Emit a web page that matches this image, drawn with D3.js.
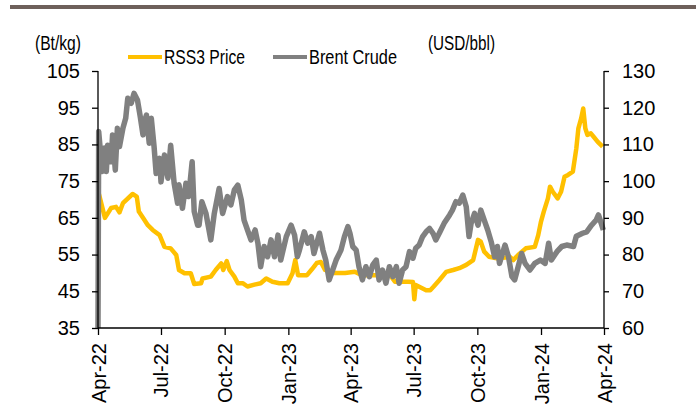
<!DOCTYPE html>
<html><head><meta charset="utf-8">
<script src="https://cdn.jsdelivr.net/npm/d3@7"></script>
<style>
html,body{margin:0;padding:0;background:#fff;}
svg{display:block;font-family:"Liberation Sans",Arial,sans-serif;}
</style></head>
<body>
<script>
// RSS3 price (Bt/kg) - left axis
const rssDates = ["2022-04-01","2022-04-11","2022-04-20","2022-04-27","2022-05-02","2022-05-07","2022-05-21","2022-05-27","2022-05-30","2022-06-05","2022-06-12","2022-06-19","2022-06-29","2022-07-06","2022-07-15","2022-07-23","2022-07-27","2022-08-04","2022-08-13","2022-08-18","2022-08-28","2022-08-30","2022-09-11","2022-09-18","2022-09-26","2022-09-29","2022-10-04","2022-10-08","2022-10-15","2022-10-20","2022-10-27","2022-11-03","2022-11-13","2022-11-22","2022-11-30","2022-12-09","2022-12-19","2022-12-31","2023-01-07","2023-01-11","2023-01-15","2023-01-28","2023-02-04","2023-02-11","2023-02-17","2023-02-23","2023-03-07","2023-03-24","2023-04-07","2023-04-17","2023-05-06","2023-05-28","2023-06-04","2023-06-23","2023-06-30","2023-07-02","2023-07-04","2023-07-19","2023-07-25","2023-07-30","2023-08-07","2023-08-17","2023-08-27","2023-09-05","2023-09-15","2023-09-25","2023-10-02","2023-10-06","2023-10-11","2023-10-18","2023-10-29","2023-11-11","2023-11-17","2023-11-22","2023-11-29","2023-12-10","2023-12-23","2023-12-28","2024-01-01","2024-01-05","2024-01-11","2024-01-14","2024-01-18","2024-01-25","2024-01-30","2024-02-04","2024-02-09","2024-02-16","2024-02-21","2024-02-24","2024-02-28","2024-03-02","2024-03-05","2024-03-08","2024-03-13","2024-03-17","2024-03-23","2024-03-30"];
const rssValues = [72.5,65,67.7,68,66.5,69,71.5,70.8,66.7,65,63,61.7,60.3,57.1,56.7,54.9,50.8,49.9,49.9,47,47.2,48.5,49,50.8,52.6,50.8,53.2,50.8,49,47.2,47.2,46.3,46.8,47.2,48.5,47.6,47.2,47.2,49.9,53.5,49.4,49.4,51,52.7,53,50.8,50,50,50.3,49.4,49.4,49.4,47.6,47.6,47.5,42.8,46.7,45.3,45.3,46.3,48,50.3,50.8,51.3,52.2,53.5,59,58.5,55.8,54.4,54,54.2,54.4,53.5,54.9,56.7,57.1,60.3,64,66.7,70.3,73.5,72.1,70.3,72.1,76.2,76.7,77.6,83.9,89.4,92.1,94.8,89.4,87.6,88,87.1,85.7,84.4];

// Brent crude (USD/bbl) - right axis
const brentDates = ["2022-04-01","2022-04-02","2022-04-07","2022-04-10","2022-04-13","2022-04-15","2022-04-20","2022-04-22","2022-04-26","2022-04-29","2022-05-02","2022-05-07","2022-05-11","2022-05-14","2022-05-19","2022-05-23","2022-05-28","2022-06-01","2022-06-05","2022-06-07","2022-06-10","2022-06-14","2022-06-17","2022-06-21","2022-06-24","2022-06-29","2022-07-01","2022-07-06","2022-07-11","2022-07-15","2022-07-20","2022-07-25","2022-07-27","2022-08-01","2022-08-06","2022-08-10","2022-08-15","2022-08-18","2022-08-23","2022-08-25","2022-08-29","2022-09-04","2022-09-11","2022-09-16","2022-09-23","2022-09-28","2022-10-05","2022-10-10","2022-10-15","2022-10-20","2022-10-25","2022-10-29","2022-11-03","2022-11-08","2022-11-14","2022-11-18","2022-11-22","2022-11-27","2022-12-02","2022-12-07","2022-12-12","2022-12-17","2022-12-21","2022-12-29","2023-01-05","2023-01-10","2023-01-14","2023-01-17","2023-01-24","2023-01-29","2023-02-03","2023-02-07","2023-02-15","2023-02-20","2023-02-24","2023-03-01","2023-03-06","2023-03-11","2023-03-18","2023-03-23","2023-03-28","2023-03-31","2023-04-04","2023-04-09","2023-04-13","2023-04-18","2023-04-23","2023-04-28","2023-05-03","2023-05-08","2023-05-12","2023-05-17","2023-05-22","2023-05-27","2023-06-01","2023-06-06","2023-06-10","2023-06-15","2023-06-20","2023-06-25","2023-06-30","2023-07-04","2023-07-09","2023-07-14","2023-07-19","2023-07-24","2023-07-29","2023-08-02","2023-08-07","2023-08-14","2023-08-22","2023-08-26","2023-08-31","2023-09-05","2023-09-10","2023-09-15","2023-09-19","2023-09-22","2023-09-27","2023-10-02","2023-10-06","2023-10-11","2023-10-16","2023-10-21","2023-10-26","2023-10-30","2023-11-02","2023-11-10","2023-11-15","2023-11-20","2023-11-24","2023-11-29","2023-12-04","2023-12-09","2023-12-16","2023-12-23","2023-12-31","2024-01-07","2024-01-12","2024-01-16","2024-01-24","2024-01-31","2024-02-07","2024-02-17","2024-02-21","2024-03-01","2024-03-07","2024-03-14","2024-03-21","2024-03-24","2024-03-28","2024-03-31"];
const brentValues = [60,113.5,102.6,109,102.6,109.8,105.3,112.6,103,114.4,109.4,114.4,117.1,122.6,121.2,123.9,122.1,117.6,112.6,116.2,118,110.3,117.1,109.4,102.1,106.2,99.8,107.1,100.8,109.8,99.4,94,99,92.6,99.4,95.8,105.3,91.7,88,88,94.4,91.2,84,91.2,98,91.2,95.8,93.5,97.6,98.9,94.9,89.4,86.7,84,86.7,83.1,76.7,82.2,79.4,84,79.4,85.3,78.5,84.9,88,85.3,79.4,81.2,86.2,83.1,84.9,80.3,85.8,81.2,78.5,73.1,75.8,78.5,81.2,84.9,87.6,85.8,82.2,81.2,76.7,73.1,76.7,74,77.2,78.5,73.1,75.8,72.2,76.7,74,76.7,72.2,75.8,76.7,80.8,79,81.7,82.6,84.9,86.2,87.1,85.8,84,85.8,88.5,90.8,92.1,94.4,94,96.2,93,84.9,88.5,91.2,88,92.1,89.4,86.7,83.5,79.4,82.2,77.6,82.6,79.4,74,73.1,76.7,80.3,77.6,75.8,77.6,78.5,77.6,83.1,78.5,80.8,82.2,82.6,82.2,85,85.8,86.2,88,89.5,90.8,88.5,86.7];

const xTickDates = ["2022-04-01","2022-07-01","2022-10-01","2023-01-01","2023-04-01","2023-07-01","2023-10-01","2024-01-01","2024-04-01"];
const xTickLabels = ["Apr-22","Jul-22","Oct-22","Jan-23","Apr-23","Jul-23","Oct-23","Jan-24","Apr-24"];
const leftTicks = [35,45,55,65,75,85,95,105];
const rightTicks = [60,70,80,90,100,110,120,130];
const seriesNames = ["RSS3 Price","Brent Crude"];
const unitLabels = ["(Bt/kg)","(USD/bbl)"];

const W = 696, H = 417;
const parse = d3.timeParse("%Y-%m-%d");
const svg = d3.select("body").append("svg").attr("width", W).attr("height", H);

const x = d3.scaleTime().domain([parse("2022-04-01"), parse("2024-04-01")]).range([98, 604]);
const yL = d3.scaleLinear().domain([35,105]).range([328,71]);
const yR = d3.scaleLinear().domain([60,130]).range([328,71]);

// top band
svg.append("rect").attr("x",10).attr("y",5).attr("width",W-10).attr("height",4).attr("fill","#6e605b");

const YEL = "#FFC000", GRY = "#808080";

const rss = rssDates.map((d,i)=>({d:parse(d), v:rssValues[i]}));
const brent = brentDates.map((d,i)=>({d:parse(d), v:brentValues[i]}));

svg.append("path").datum(rss)
  .attr("fill","none").attr("stroke",YEL).attr("stroke-width",4.5).attr("stroke-linejoin","round")
  .attr("d", d3.line().x(p=>x(p.d)).y(p=>yL(p.v)));
svg.append("path").datum(brent)
  .attr("fill","none").attr("stroke",GRY).attr("stroke-width",5.5).attr("stroke-linejoin","round")
  .attr("d", d3.line().x(p=>x(p.d)).y(p=>yR(p.v)));

// axes
const fs = 20;
const gL = svg.append("g").attr("transform","translate(98,0)")
  .call(d3.axisLeft(yL).tickValues(leftTicks).tickSize(6).tickPadding(12).tickFormat(d3.format("d")));
const gR = svg.append("g").attr("transform","translate(604,0)")
  .call(d3.axisRight(yR).tickValues(rightTicks).tickSize(5).tickPadding(13).tickFormat(d3.format("d")));
const gB = svg.append("g").attr("transform","translate(0,328)")
  .call(d3.axisBottom(x).tickValues(xTickDates.map(parse)).tickSize(7)
    .tickFormat((d,i)=>xTickLabels[i]));
[gL,gR,gB].forEach(g=>{
  g.select(".domain").attr("stroke","#000").attr("stroke-width",1.3);
  g.selectAll(".tick line").attr("stroke","#000").attr("stroke-width",1.3);
  g.selectAll("text").attr("font-size",fs).attr("fill","#000").attr("font-family","Liberation Sans, Arial, sans-serif");
});
gL.select(".domain").attr("d","M0,71V328");
gR.select(".domain").attr("d","M0,71V328");
gB.select(".domain").attr("d","M98,0H604");
gB.selectAll(".tick text")
  .attr("transform","rotate(-90)")
  .attr("text-anchor","end")
  .attr("x",-15).attr("y",0).attr("dy","0.35em");

// unit labels
svg.append("text").attr("x",35).attr("y",50).attr("font-size",21)
  .attr("textLength",46).attr("lengthAdjust","spacingAndGlyphs").text(unitLabels[0]);
svg.append("text").attr("x",428).attr("y",50).attr("font-size",21)
  .attr("textLength",67).attr("lengthAdjust","spacingAndGlyphs").text(unitLabels[1]);

// legend
const leg = [{n:seriesNames[0],c:YEL,x:128,w:81},{n:seriesNames[1],c:GRY,x:273,w:88}];
leg.forEach(l=>{
  svg.append("line").attr("x1",l.x).attr("x2",l.x+34).attr("y1",57).attr("y2",57)
    .attr("stroke",l.c).attr("stroke-width",4);
  svg.append("text").attr("x",l.x+36).attr("y",64).attr("font-size",21)
    .attr("textLength",l.w).attr("lengthAdjust","spacingAndGlyphs").text(l.n);
});
</script>
</body></html>
